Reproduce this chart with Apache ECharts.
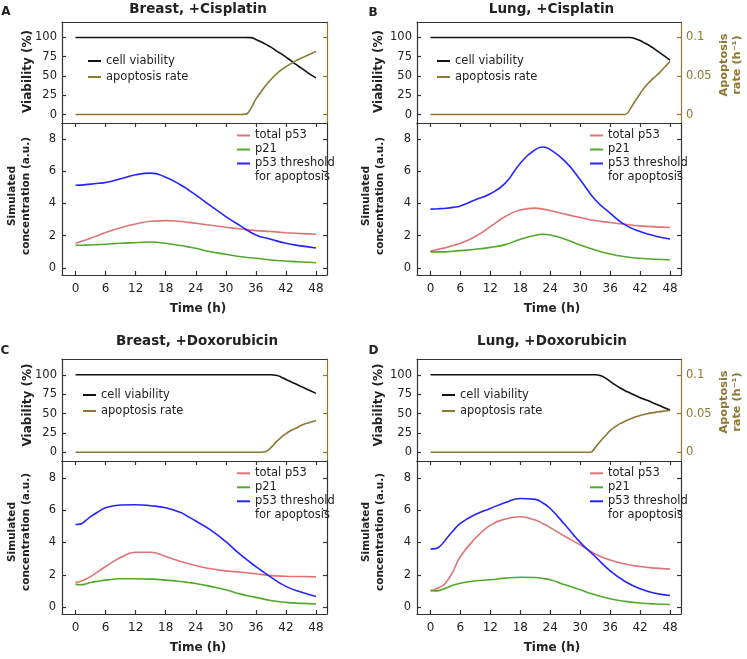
<!DOCTYPE html>
<html><head><meta charset="utf-8">
<script src="https://cdn.jsdelivr.net/npm/echarts@6/dist/echarts.min.js"></script>
<style>html,body{margin:0;padding:0;background:#fff}#c{width:747px;height:659px}</style>
</head><body><div id="c"></div>
<script>
// ---------------- DATA ----------------
const hoursTop = [0,12,24,30,31,32,33,34,35,36,37,38,39,40,41,42,43,44,45,46,47,48];
const hoursBottom = [0,1,2,3,4.5,6,9,12,15,18,21,22.5,24,27,30,33,36,39,42,45,48];
const xTicks = [0,6,12,18,24,30,36,42,48];
const viaTicks = [0,25,50,75,100];
const rateTicks = [0,0.05,0.1];
const concTicks = [0,2,4,6,8];

const panelTitles = ['Breast, +Cisplatin','Lung, +Cisplatin','Breast, +Doxorubicin','Lung, +Doxorubicin'];
const panelLetters = ['A','B','C','D'];
const seriesNames = ['cell viability','apoptosis rate','total p53','p21','p53 threshold'];

// top panels: cell viability (%) and apoptosis rate (1/h)
const viaA = [100,100,100,100,100,100,100,100,99.8,97.5,94.5,91,87.5,83,79,74.5,70,65,60.5,56,51.5,47.5];
const apoA = [0,0,0,0,0,0,0,0.0005,0.008,0.020,0.029,0.038,0.0455,0.052,0.0575,0.062,0.066,0.070,0.073,0.076,0.079,0.0817];
const viaB = [100,100,100,100,100,100,100,100,100,100,100,100,100,100,98.5,96,92.5,89,84.5,80,75.5,70.5];
const apoB = [0,0,0,0,0,0,0,0,0,0,0,0,0,0.007,0.0175,0.027,0.036,0.043,0.049,0.055,0.062,0.069];
const viaC = [100,100,100,100,100,100,100,100,100,100,100,100,100,99.3,97.3,94,91,88,85,82,79,76];
const apoC = [0,0,0,0,0,0,0,0,0,0,0,0.001,0.006,0.013,0.019,0.024,0.028,0.031,0.0345,0.037,0.039,0.041];
const viaD = [100,100,100,100,100,100,100,99,96,91.5,87,83,79.5,76.5,73.5,70.5,68,65.5,62.5,60,57,54.5];
const apoD = [0,0,0,0,0,0,0.006,0.014,0.021,0.028,0.033,0.037,0.040,0.043,0.0455,0.0475,0.049,0.0505,0.0515,0.0525,0.0533,0.054];

// bottom panels: simulated concentrations (a.u.)
const p53A = [1.53,1.63,1.73,1.84,2.02,2.2,2.5,2.73,2.9,2.94,2.88,2.83,2.77,2.65,2.53,2.42,2.32,2.26,2.19,2.13,2.09];
const p21A = [1.41,1.41,1.42,1.43,1.45,1.47,1.53,1.57,1.61,1.53,1.39,1.31,1.22,1.01,0.85,0.7,0.6,0.5,0.43,0.37,0.33];
const thrA = [5.13,5.14,5.17,5.2,5.25,5.3,5.53,5.78,5.88,5.63,5.15,4.85,4.53,3.85,3.19,2.6,2.05,1.78,1.53,1.37,1.24];
const p53B = [1.05,1.12,1.19,1.26,1.4,1.53,1.95,2.57,3.19,3.6,3.71,3.65,3.56,3.34,3.13,2.94,2.82,2.71,2.61,2.55,2.51];
const p21B = [1.0,1.0,1.0,1.0,1.04,1.08,1.16,1.28,1.45,1.78,2.03,2.09,2.05,1.78,1.43,1.12,0.87,0.7,0.6,0.54,0.5];
const thrB = [3.65,3.66,3.68,3.7,3.76,3.85,4.23,4.6,5.26,6.5,7.34,7.5,7.34,6.61,5.47,4.23,3.4,2.67,2.26,1.99,1.8];
const p53C = [1.52,1.6,1.72,1.89,2.2,2.51,3.07,3.4,3.4,3.13,2.82,2.7,2.57,2.37,2.24,2.16,2.06,1.95,1.91,1.89,1.87];
const p21C = [1.42,1.38,1.43,1.52,1.6,1.67,1.75,1.75,1.73,1.67,1.58,1.52,1.46,1.28,1.07,0.8,0.6,0.41,0.29,0.23,0.19];
const thrC = [5.12,5.14,5.35,5.6,5.9,6.15,6.32,6.34,6.28,6.15,5.86,5.6,5.33,4.77,4.05,3.23,2.51,1.85,1.28,0.93,0.66];
const p53D = [1.03,1.1,1.25,1.48,2.2,3.13,4.26,5.08,5.45,5.6,5.39,5.17,4.92,4.37,3.85,3.29,2.92,2.67,2.51,2.41,2.35];
const p21D = [1.01,1.0,1.05,1.17,1.35,1.48,1.63,1.69,1.79,1.85,1.83,1.77,1.69,1.38,1.07,0.76,0.51,0.35,0.25,0.19,0.16];
const thrD = [3.6,3.62,3.8,4.16,4.71,5.19,5.74,6.11,6.48,6.73,6.67,6.45,6.11,5.08,4.01,3.13,2.24,1.58,1.13,0.86,0.72];

const viaAll = [viaA,viaB,viaC,viaD];
const apoAll = [apoA,apoB,apoC,apoD];
const p53All = [p53A,p53B,p53C,p53D];
const p21All = [p21A,p21B,p21C,p21D];
const thrAll = [thrA,thrB,thrC,thrD];

// ---------------- STYLE / LAYOUT ----------------
const FONT = 'DejaVu Sans';
const TXT = '#222';
const AX = '#333';
const OLIVE = '#8C7832';
const C_VIA = '#111111', C_P53 = '#E07474', C_P21 = '#52A82A', C_THR = '#2424FF';

const colLeft = [62, 417], colW = [265, 264];
const topTop = [22, 359], topH = [101, 102];
const botTop = [123, 461], botH = [152, 153];
const topRange = [[-11.0,120.1],[-11.3,120.4]];
const botRange = [[-0.434,8.99],[-0.43,9.05]];
const xMin = -2.7, xMax = 50.2;

const grid = [], xAxis = [], yAxis = [], series = [], legend = [], graphic = [];

function pairs(h, v){ return h.map((t,k)=>[t, v[k]]); }
const axLine = (c)=>({show:true, onZero:false, lineStyle:{color:c, width:1.2}});

for (let i=0;i<4;i++){
  const col = i%2, row = Math.floor(i/2);
  const L = colLeft[col], W = colW[col];
  const gT = 2*i, gB = 2*i+1;
  grid.push({left:L, top:topTop[row], width:W, height:topH[row], containLabel:false});
  grid.push({left:L, top:botTop[row], width:W, height:botH[row], containLabel:false});

  xAxis.push({type:'value', gridIndex:gT, position:'bottom', min:xMin, max:xMax, axisLine:axLine(AX),
    axisTick:{show:false}, axisLabel:{show:false}, splitLine:{show:false}});
  xAxis.push({type:'value', gridIndex:gT, position:'top', min:xMin, max:xMax, axisLine:axLine(AX),
    axisTick:{show:false}, axisLabel:{show:false}, splitLine:{show:false}});
  xAxis.push({type:'value', gridIndex:gB, position:'bottom', min:xMin, max:xMax, axisLine:axLine(AX),
    axisTick:{show:true, inside:true, length:4, customValues:xTicks, lineStyle:{color:AX, width:1.2}},
    axisLabel:{show:true, customValues:xTicks, margin:8, fontFamily:FONT, fontSize:12, color:TXT},
    splitLine:{show:false}});
  xAxis.push({type:'value', gridIndex:gB, position:'top', min:xMin, max:xMax, axisLine:axLine(AX),
    axisTick:{show:true, inside:true, length:4, customValues:xTicks, lineStyle:{color:AX, width:1.2}},
    axisLabel:{show:false}, splitLine:{show:false}});

  yAxis.push({type:'value', gridIndex:gT, position:'left', min:topRange[row][0], max:topRange[row][1], axisLine:axLine(AX),
    axisTick:{show:true, inside:true, length:4, customValues:viaTicks, lineStyle:{color:AX, width:1.2}},
    axisLabel:{show:true, customValues:viaTicks, margin:5, fontFamily:FONT, fontSize:11.5, color:TXT},
    splitLine:{show:false}});
  yAxis.push({type:'value', gridIndex:gT, position:'right', min:topRange[row][0]/1000, max:topRange[row][1]/1000, axisLine:axLine(OLIVE),
    axisTick:{show:true, inside:true, length:4, customValues:rateTicks, lineStyle:{color:OLIVE, width:1.2}},
    axisLabel:{show:col===1, customValues:rateTicks, margin:5, fontFamily:FONT, fontSize:11.5, color:OLIVE,
      formatter:(v)=>String(+v.toFixed(3))},
    splitLine:{show:false}});
  yAxis.push({type:'value', gridIndex:gB, position:'left', min:botRange[row][0], max:botRange[row][1], axisLine:axLine(AX),
    axisTick:{show:true, inside:true, length:4, customValues:concTicks, lineStyle:{color:AX, width:1.2}},
    axisLabel:{show:true, customValues:concTicks, margin:6, fontFamily:FONT, fontSize:11.5, color:TXT},
    splitLine:{show:false}});
  yAxis.push({type:'value', gridIndex:gB, position:'right', min:botRange[row][0], max:botRange[row][1], axisLine:axLine(AX),
    axisTick:{show:true, inside:true, length:4, customValues:concTicks, lineStyle:{color:AX, width:1.2}},
    axisLabel:{show:false}, splitLine:{show:false}});

  const base = {type:'line', showSymbol:false, symbol:'none', smooth:0.5, sampling:null, animation:false, z:3};
  series.push(Object.assign({}, base, {name:seriesNames[0], xAxisIndex:4*i, yAxisIndex:4*i,
    data:pairs(hoursTop, viaAll[i]), lineStyle:{color:C_VIA, width:1.6}, itemStyle:{color:C_VIA}}));
  series.push(Object.assign({}, base, {name:seriesNames[1], xAxisIndex:4*i, yAxisIndex:4*i+1,
    data:pairs(hoursTop, apoAll[i]), lineStyle:{color:OLIVE, width:1.6}, itemStyle:{color:OLIVE}}));
  series.push(Object.assign({}, base, {name:seriesNames[2], xAxisIndex:4*i+2, yAxisIndex:4*i+2,
    data:pairs(hoursBottom, p53All[i]), lineStyle:{color:C_P53, width:1.6}, itemStyle:{color:C_P53}}));
  series.push(Object.assign({}, base, {name:seriesNames[3], xAxisIndex:4*i+2, yAxisIndex:4*i+2,
    data:pairs(hoursBottom, p21All[i]), lineStyle:{color:C_P21, width:1.6}, itemStyle:{color:C_P21}}));
  series.push(Object.assign({}, base, {name:seriesNames[4], xAxisIndex:4*i+2, yAxisIndex:4*i+2,
    data:pairs(hoursBottom, thrAll[i]), lineStyle:{color:C_THR, width:1.6}, itemStyle:{color:C_THR}}));
}

const legTopLeft = [88, 437, 83, 442];
const legTopTop = [54, 54, 388, 388];
const legBotLeft = [237, 590, 237, 590];
const legBotTop = [128.5, 128.5, 466.3, 466.3];
const legText = {fontFamily:FONT, fontSize:11.5, color:TXT, lineHeight:14};
for (let i=0;i<4;i++){
  legend.push({data:[seriesNames[0],seriesNames[1]], orient:'vertical', left:legTopLeft[i], top:legTopTop[i],
    icon:'rect', itemWidth:13, itemHeight:2, itemGap:2, padding:0, textStyle:legText, selectedMode:false});
  legend.push({data:[seriesNames[2],seriesNames[3],seriesNames[4]], orient:'vertical', left:legBotLeft[i], top:legBotTop[i],
    icon:'rect', itemWidth:13, itemHeight:2, itemGap:0, padding:0, textStyle:legText, selectedMode:false});
  graphic.push({type:'text', left:legBotLeft[i]+18, top:legBotTop[i]+42+0.5,
    style:{text:'for apoptosis', fontFamily:FONT, fontSize:11.5, fill:TXT}});
}

function txt(x,y,text,size,opts){
  return Object.assign({type:'text', x:x, y:y, style:Object.assign({text:text, fontFamily:FONT, fontSize:size,
    fontWeight:'bold', fill:TXT, textAlign:'center', textVerticalAlign:'middle'}, (opts&&opts.style)||{})},
    opts&&opts.rotation!==undefined?{rotation:opts.rotation}:{});
}
const titleX = [198, 551.5, 197, 552], titleY = [9.5, 9.5, 341, 341];
const letterX = [6, 373, 5, 373.5], letterY = [12, 13, 351, 350.5];
const rowViaY = [71.5, 405], rowConcY = [196, 532], rowTimeY = [309, 647.7];
const colViaX = [28, 379], colConcX = [19, 373], colTimeX = [198, 552];
for (let i=0;i<4;i++){
  const col=i%2, row=Math.floor(i/2);
  graphic.push(txt(titleX[i], titleY[i], panelTitles[i], 13.5));
  graphic.push(txt(letterX[i], letterY[i], panelLetters[i], 12));
  graphic.push(txt(colViaX[col], rowViaY[row], 'Viability (%)', 12, {rotation:Math.PI/2}));
  graphic.push(txt(colConcX[col], rowConcY[row], 'Simulated\nconcentration (a.u.)', 10.5, {rotation:Math.PI/2, style:{lineHeight:14}}));
  graphic.push(txt(colTimeX[col], rowTimeY[row], 'Time (h)', 12));
}
graphic.push(txt(730.5, 65, 'Apoptosis\nrate (h\u207B\u00B9)', 11.3, {rotation:Math.PI/2, style:{fill:OLIVE, lineHeight:13}}));
graphic.push(txt(730.5, 402, 'Apoptosis\nrate (h\u207B\u00B9)', 11.3, {rotation:Math.PI/2, style:{fill:OLIVE, lineHeight:13}}));

const chart = echarts.init(document.getElementById('c'), null, {renderer:'canvas'});
chart.setOption({animation:false, backgroundColor:'#fff', grid, xAxis, yAxis, series, legend, graphic});
</script></body></html>
